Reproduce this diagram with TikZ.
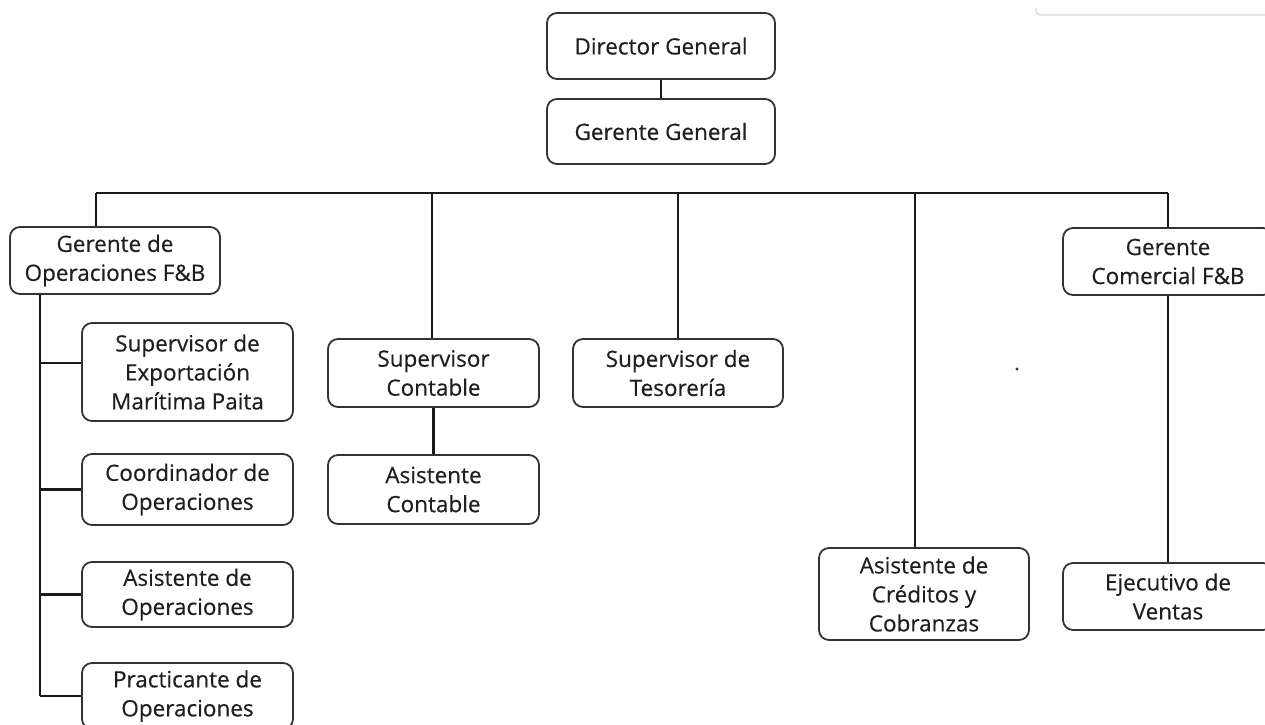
\documentclass[tikz,border=0pt]{standalone}
\usepackage{fontspec}
\setmainfont{Open Sans}[FakeBold=0.4]

\begin{document}
\begin{tikzpicture}[x=1pt,y=-1pt,
		puesto/.style={draw=black!80, line width=1.8pt, rounded corners=10pt, fill=white,
			align=center, text=black!88, inner sep=0pt, minimum width=211, font=\fontsize{22.5}{29}\selectfont},
		linea/.style={black!90, line width=2.2pt}]
		\useasboundingbox (0,0) rectangle (1265,724);
		% marca gris arriba a la derecha
		\draw[gray!20, line width=2pt, rounded corners=4pt] (1036,8) -- (1036,15) -- (1265,15);
		\fill[black!80] (1017,369) circle (1.6);
		% barra horizontal
		\coordinate (b1) at (96,193);
		\coordinate (b2) at (432,193);
		\coordinate (b3) at (678,193);
		\coordinate (b4) at (915,193);
		\coordinate (b5) at (1168,193);
		\coordinate (eje) at (40,696);
		\coordinate (jexp) at (40,363);
		\node[puesto, minimum width=228, minimum height=66] (DG) at (661,46) {Director General};
		\node[puesto, minimum width=228, minimum height=65] (GG) at (661,131.5) {Gerente General};
		\node[puesto, minimum width=210, minimum height=67] (GO) at (115,260.5) {Gerente de\\Operaciones F\&B};
		\node[puesto, minimum width=210, minimum height=67] (GC) at (1168,261.5) {Gerente\\Comercial F\&B};
		\node[puesto, minimum height=98] (SE) at (187.5,372) {Supervisor de\\Exportación\\Marítima Paita};
		\node[puesto, minimum height=71] (CO) at (187.5,489.5) {Coordinador de\\Operaciones};
		\node[puesto, minimum height=65] (AO) at (187.5,594.5) {Asistente de\\Operaciones};
		\node[puesto, minimum height=66] (PO) at (187.5,696) {Practicante de\\Operaciones};
		\node[puesto, minimum height=68] (SC) at (433.5,373) {Supervisor\\Contable};
		\node[puesto, minimum height=69] (AC) at (433.5,489.5) {Asistente\\Contable};
		\node[puesto, minimum width=210, minimum height=68] (ST) at (678,373) {Supervisor de\\Tesorería};
		\node[puesto, minimum width=210, minimum height=92] (CC) at (924,594) {Asistente de\\Créditos y\\Cobranzas};
		\node[puesto, minimum width=210, minimum height=67] (EV) at (1168,596.5) {Ejecutivo de\\Ventas};
		\draw[linea] (DG) -- (GG);
		\draw[linea] (b1) -- (b5);
		\draw[linea] (b1) -- (b1 |- GO.north);
		\draw[linea] (b2) -- (b2 |- SC.north);
		\draw[linea] (b3) -- (b3 |- ST.north);
		\draw[linea] (b4) -- (b4 |- CC.north);
		\draw[linea] (b5) -- (b5 |- GC.north);
		\draw[linea, line width=2.8pt] (GC) -- (EV);
		\draw[linea] (SC) -- (AC);
		\draw[linea] (GO.south -| eje) -- (eje);
		\draw[linea] (jexp) -- (jexp -| SE.west);
		\draw[linea] (eje |- CO.west) -- (CO.west);
		\draw[linea] (eje |- AO.west) -- (AO.west);
		\draw[linea] (eje) -- (PO.west);
	\end{tikzpicture}
\end{document}
